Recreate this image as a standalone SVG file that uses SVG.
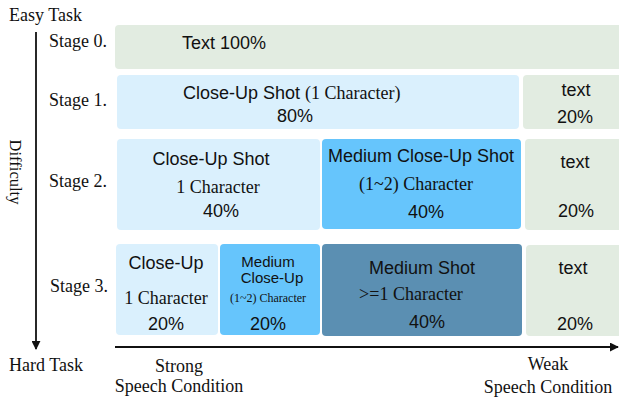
<svg xmlns="http://www.w3.org/2000/svg" width="619" height="399" viewBox="0 0 619 399">
<defs>
<style>
.serif{font-family:"Liberation Serif","Times New Roman",serif;font-size:18px;fill:#111;}
.sans{font-family:"Liberation Sans",Arial,sans-serif;font-size:18px;fill:#111;}
.m{text-anchor:middle;}
.green{fill:#e2ece1;}
.lb{fill:#daf0fd;}
.mb{fill:#66c5fc;}
.db{fill:#5b8fb2;}
.ax{stroke:#111;stroke-width:1.8;fill:none;}
</style>
<marker id="ah" viewBox="0 0 10 10" refX="9" refY="5" markerWidth="5" markerHeight="5" markerUnits="strokeWidth" orient="auto">
<path d="M0,0 L10,5 L0,10 z" fill="#111"/>
</marker>
</defs>
<rect width="619" height="399" fill="#fff"/>

<g id="axis-labels">
<text class="serif" x="9" y="21">Easy Task</text>
<text class="serif" x="9" y="371">Hard Task</text>
<text class="serif m" x="10" y="172" transform="rotate(90 10 172)" style="font-size:16.5px">Difficulty</text>
<text class="serif m" x="179" y="372">Strong</text>
<text class="serif m" x="179" y="392">Speech Condition</text>
<text class="serif m" x="548" y="370">Weak</text>
<text class="serif m" x="548" y="393">Speech Condition</text>
<text class="serif" x="49" y="47">Stage 0.</text>
<text class="serif" x="49" y="106">Stage 1.</text>
<text class="serif" x="49" y="187">Stage 2.</text>
<text class="serif" x="50" y="292">Stage 3.</text>
</g>

<g id="connectors">
<line class="ax" x1="36" y1="32" x2="36" y2="349" marker-end="url(#ah)"/>
<line class="ax" x1="115" y1="347" x2="618" y2="347" marker-end="url(#ah)"/>
</g>

<g id="s0-text">
<rect class="green" x="115" y="25" width="515" height="44" rx="4"/>
<text class="sans" x="182" y="49">Text 100%</text>
</g>

<g id="s1-closeup">
<rect class="lb" x="117" y="75" width="402" height="54" rx="4"/>
<text class="sans" x="183" y="99">Close-Up Shot <tspan class="serif">(1 Character)</tspan></text>
<text class="sans m" x="295" y="122">80%</text>
</g>
<g id="s1-text">
<rect class="green" x="523" y="75" width="107" height="54" rx="4"/>
<text class="sans m" x="576" y="96">text</text>
<text class="sans m" x="575" y="123">20%</text>
</g>

<g id="s2-closeup">
<rect class="lb" x="117" y="139" width="203" height="91" rx="4"/>
<text class="sans m" x="211" y="165">Close-Up Shot</text>
<text class="serif m" x="218" y="193">1 Character</text>
<text class="sans m" x="221" y="217">40%</text>
</g>
<g id="s2-medium-closeup">
<rect class="mb" x="322" y="139" width="199" height="90" rx="4"/>
<text class="sans m" x="421" y="162">Medium Close-Up Shot</text>
<text class="serif m" x="416" y="190">(1~2) Character</text>
<text class="sans m" x="426" y="218">40%</text>
</g>
<g id="s2-text">
<rect class="green" x="525" y="139" width="105" height="91" rx="4"/>
<text class="sans m" x="575" y="168">text</text>
<text class="sans m" x="576" y="217">20%</text>
</g>

<g id="s3-closeup">
<rect class="lb" x="116" y="244" width="102" height="91" rx="4"/>
<text class="sans m" x="166" y="269">Close-Up</text>
<text class="serif m" x="166" y="304">1 Character</text>
<text class="sans m" x="166" y="330">20%</text>
</g>
<g id="s3-medium-closeup">
<rect class="mb" x="220" y="244" width="100" height="91" rx="4"/>
<text class="sans m" x="268" y="267" style="font-size:15px">Medium</text>
<text class="sans m" x="272" y="283" style="font-size:15px">Close-Up</text>
<text class="serif m" x="268" y="302" style="font-size:12px">(1~2) Character</text>
<text class="sans m" x="268" y="330">20%</text>
</g>
<g id="s3-medium-shot">
<rect class="db" x="322" y="244" width="200" height="92" rx="4"/>
<text class="sans m" x="422" y="274">Medium Shot</text>
<text class="serif m" x="411" y="300">&gt;=1 Character</text>
<text class="sans m" x="427" y="328">40%</text>
</g>
<g id="s3-text">
<rect class="green" x="526" y="245" width="104" height="91" rx="4"/>
<text class="sans m" x="573" y="274">text</text>
<text class="sans m" x="575" y="330">20%</text>
</g>
</svg>
